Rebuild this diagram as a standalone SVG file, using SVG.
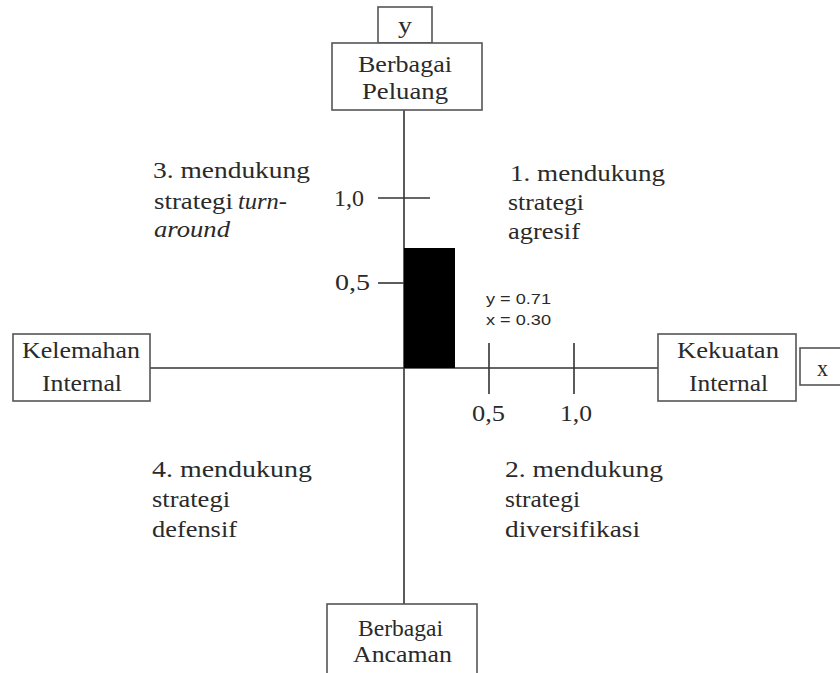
<svg xmlns="http://www.w3.org/2000/svg" width="840" height="673" viewBox="0 0 840 673">
<style>
.box{fill:#fff;stroke:#555;stroke-width:1.6}
.ln{stroke:#333;stroke-width:1.6;fill:none}
.t{font-family:"Times New Roman","Liberation Serif",Times,serif;font-size:23px;fill:#2a2a2a}
.s{font-family:"Liberation Sans",Arial,sans-serif;font-size:14px;fill:#2a2a2a}
</style>
<rect width="840" height="673" fill="#fff"/>
<g id="connectors">
<line class="ln" x1="404" y1="110" x2="404" y2="604"/>
<line class="ln" x1="150" y1="368" x2="658" y2="368"/>
<line class="ln" x1="378" y1="198" x2="430" y2="198"/>
<line class="ln" x1="378" y1="283" x2="404" y2="283"/>
<line class="ln" x1="489" y1="343" x2="489" y2="394"/>
<line class="ln" x1="574" y1="343" x2="574" y2="394"/>
</g>
<g id="bar"><rect x="404" y="248" width="51" height="120" fill="#000"/></g>
<g id="ylabel"><rect class="box" x="378" y="7" width="54" height="36"/><text class="t" x="398" y="33" textLength="14" lengthAdjust="spacingAndGlyphs">y</text></g>
<g id="peluang"><rect class="box" x="332" y="43" width="150" height="67"/><text class="t" x="358" y="72" textLength="94" lengthAdjust="spacingAndGlyphs">Berbagai</text><text class="t" x="362" y="99" textLength="86" lengthAdjust="spacingAndGlyphs">Peluang</text></g>
<g id="kelemahan"><rect class="box" x="13" y="334" width="137" height="67"/><text class="t" x="22" y="358" textLength="118" lengthAdjust="spacingAndGlyphs">Kelemahan</text><text class="t" x="42" y="391" textLength="80" lengthAdjust="spacingAndGlyphs">Internal</text></g>
<g id="kekuatan"><rect class="box" x="658" y="334" width="138" height="67"/><text class="t" x="677" y="358" textLength="102" lengthAdjust="spacingAndGlyphs">Kekuatan</text><text class="t" x="689" y="391" textLength="79" lengthAdjust="spacingAndGlyphs">Internal</text></g>
<g id="xlabel"><rect class="box" x="800" y="348" width="44" height="37"/><text class="t" x="817" y="376" textLength="11" lengthAdjust="spacingAndGlyphs">x</text></g>
<g id="ancaman"><rect class="box" x="327" y="604" width="150" height="75"/><text class="t" x="358" y="636" textLength="85" lengthAdjust="spacingAndGlyphs">Berbagai</text><text class="t" x="353" y="662" textLength="99" lengthAdjust="spacingAndGlyphs">Ancaman</text></g>
<g id="ticklabels">
<text class="t" x="334" y="206" textLength="30" lengthAdjust="spacingAndGlyphs">1,0</text>
<text class="t" x="335" y="290" textLength="35" lengthAdjust="spacingAndGlyphs">0,5</text>
<text class="t" x="472" y="421" textLength="33" lengthAdjust="spacingAndGlyphs">0,5</text>
<text class="t" x="560" y="421" textLength="32" lengthAdjust="spacingAndGlyphs">1,0</text>
</g>
<g id="values"><text class="s" x="486" y="304" textLength="65" lengthAdjust="spacingAndGlyphs">y = 0.71</text><text class="s" x="486" y="325" textLength="65" lengthAdjust="spacingAndGlyphs">x = 0.30</text></g>
<g id="q3"><text class="t" x="153" y="178" textLength="157" lengthAdjust="spacingAndGlyphs">3.  mendukung</text><text class="t" x="154" y="209" textLength="79" lengthAdjust="spacingAndGlyphs">strategi</text><text class="t" x="238" y="209" font-style="italic" textLength="49" lengthAdjust="spacingAndGlyphs">turn-</text><text class="t" x="154" y="237" font-style="italic" textLength="76" lengthAdjust="spacingAndGlyphs">around</text></g>
<g id="q1"><text class="t" x="510" y="181" textLength="155" lengthAdjust="spacingAndGlyphs">1.  mendukung</text><text class="t" x="508" y="210" textLength="76" lengthAdjust="spacingAndGlyphs">strategi</text><text class="t" x="508" y="239" textLength="72" lengthAdjust="spacingAndGlyphs">agresif</text></g>
<g id="q4"><text class="t" x="152" y="477" textLength="160" lengthAdjust="spacingAndGlyphs">4.  mendukung</text><text class="t" x="152" y="507" textLength="78" lengthAdjust="spacingAndGlyphs">strategi</text><text class="t" x="152" y="537" textLength="85" lengthAdjust="spacingAndGlyphs">defensif</text></g>
<g id="q2"><text class="t" x="505" y="477" textLength="158" lengthAdjust="spacingAndGlyphs">2.  mendukung</text><text class="t" x="505" y="507" textLength="75" lengthAdjust="spacingAndGlyphs">strategi</text><text class="t" x="505" y="537" textLength="135" lengthAdjust="spacingAndGlyphs">diversifikasi</text></g>
</svg>
